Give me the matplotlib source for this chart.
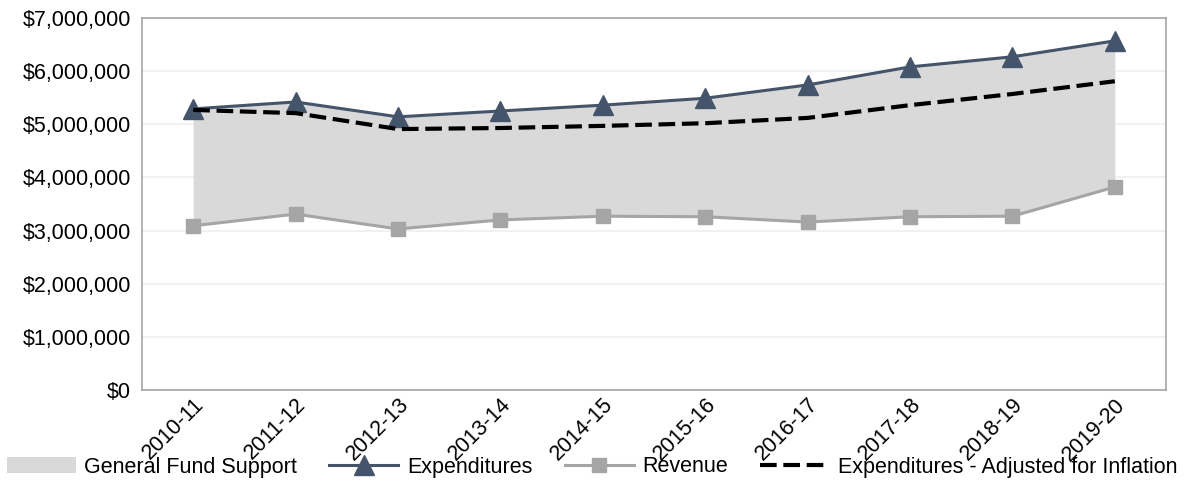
import matplotlib
matplotlib.use("Agg")
import matplotlib.pyplot as plt
from matplotlib.ticker import FuncFormatter

plt.rcParams["font.family"] = ["Liberation Sans", "DejaVu Sans"]

years = ["2010-11", "2011-12", "2012-13", "2013-14", "2014-15",
         "2015-16", "2016-17", "2017-18", "2018-19", "2019-20"]
expenditures = [5290000, 5420000, 5140000, 5250000, 5360000,
                5490000, 5740000, 6080000, 6270000, 6570000]
revenue = [3090000, 3310000, 3030000, 3200000, 3270000,
           3260000, 3160000, 3260000, 3270000, 3820000]
adjusted = [5270000, 5210000, 4910000, 4930000, 4970000,
            5020000, 5120000, 5360000, 5570000, 5810000]

fig = plt.figure(figsize=(11.84, 4.83), dpi=100)
ax = fig.add_axes([142 / 1184, 1 - 390 / 483, 1024 / 1184, 372 / 483])

x = list(range(len(years)))
ax.fill_between(x, revenue, expenditures, color="#d9d9d9", linewidth=0,
                label="General Fund Support", zorder=1)
ax.plot(x, expenditures, color="#44546a", linewidth=2.2, marker="^",
        markersize=14, label="Expenditures", zorder=3)
ax.plot(x, revenue, color="#a5a5a5", linewidth=2.2, marker="s",
        markersize=10, label="Revenue", zorder=3)
ax.plot(x, adjusted, color="black", linewidth=3, linestyle=(0, (4, 1.6)),
        label="Expenditures - Adjusted for Inflation", zorder=4)

ax.set_xlim(-0.5, len(years) - 0.5)
ax.set_ylim(0, 7000000)
ax.set_yticks(range(0, 7000001, 1000000))
ax.yaxis.set_major_formatter(FuncFormatter(lambda v, p: "$0" if v == 0 else f"${v:,.0f}"))
ax.set_xticks(x)
ax.set_xticklabels(years, rotation=45, ha="right", va="top", rotation_mode="anchor")
ax.tick_params(axis="both", length=0, labelsize=15.5, colors="black", pad=8)
ax.tick_params(axis="x", pad=3)
ax.grid(axis="y", color="#efefef", linewidth=1.2, zorder=0)
ax.set_axisbelow(True)
for side in ["left", "right", "top", "bottom"]:
    ax.spines[side].set_color("#a6a6a6")
    ax.spines[side].set_linewidth(1.2)

fig.legend(loc="center", bbox_to_anchor=(0.5, 1 - 467 / 483), ncol=4, frameon=False,
           fontsize=15.5, handlelength=3.2, columnspacing=1.5, handletextpad=0.4,
           borderpad=0, borderaxespad=0)

fig.savefig("out.png", dpi=100)
